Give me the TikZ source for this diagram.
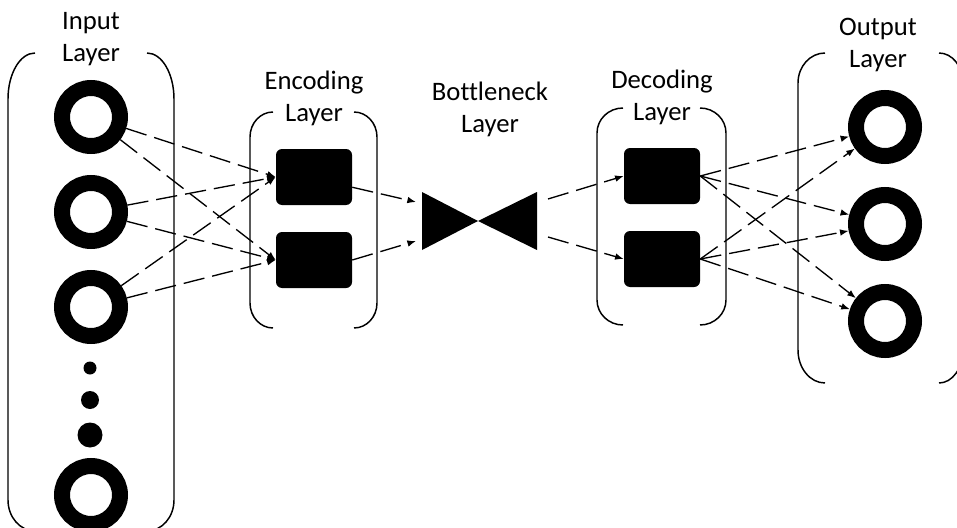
\documentclass[tikz,border=0pt]{standalone}
\usepackage{fontspec}
\setmainfont{Carlito}[Ligatures=NoCommon]
\usetikzlibrary{arrows.meta}

\begin{document}
\begin{tikzpicture}[x=0.75pt, y=-0.75pt,
  ring/.style={circle, draw, line width=12pt, minimum size=43.5pt, inner sep=0pt, outer sep=6pt},
  blob/.style={circle, fill, inner sep=0pt},
  cell/.style={fill, rounded corners=4.5pt, minimum width=57pt, minimum height=42pt, inner sep=0pt},
  lbl/.style={font=\fontsize{20}{24}\selectfont, align=center, inner sep=0pt},
  bracket/.style={line width=1.1pt},
  conn/.style={-{Latex[length=6.5pt, width=5pt]}, line width=1pt, dash pattern=on 16pt off 6pt}
]
\useasboundingbox (0,0) rectangle (957,528);
\clip (0,0) rectangle (957,528);

%% Input layer (left column, runs off the bottom)
\node[ring] (in1) at (91,117) {};
\node[ring] (in2) at (91,212) {};
\node[ring] (in3) at (91,307) {};
\node[blob, minimum size=9.75pt] (dot1) at (90,368) {};
\node[blob, minimum size=13.5pt] (dot2) at (90,400) {};
\node[blob, minimum size=18.75pt] (dot3) at (90,435) {};
\node[ring] (in4) at (91,495) {};

\draw[bracket] (35,53) arc[start angle=90, end angle=180, x radius=20.25pt, y radius=34.5pt]
  -- (8,500) arc[start angle=180, end angle=270, x radius=20.25pt, y radius=23.25pt];
\draw[bracket] (147,53) arc[start angle=90, end angle=0, x radius=20.25pt, y radius=34.5pt]
  -- (174,500) arc[start angle=0, end angle=-90, x radius=20.25pt, y radius=23.25pt];
\node[lbl] (lbl-in) at (91,39) {Input\\Layer};

%% Encoding layer
\node[cell] (enc1) at (314,177) {};
\node[cell] (enc2) at (314,260) {};

\draw[bracket] (273,112) arc[start angle=90, end angle=180, x radius=17.25pt, y radius=18.75pt]
  -- (250,303) arc[start angle=180, end angle=270, x radius=17.25pt, y radius=18.75pt];
\draw[bracket] (354,112) arc[start angle=90, end angle=0, x radius=17.25pt, y radius=18.75pt]
  -- (377,303) arc[start angle=0, end angle=-90, x radius=17.25pt, y radius=18.75pt];
\node[lbl] (lbl-enc) at (314,98) {Encoding\\Layer};

%% Bottleneck (bow tie)
\fill (422,192) -- (478,221) -- (422,250) -- cycle;
\fill (537,192) -- (478,221) -- (537,250) -- cycle;
\coordinate (bn-in1) at (416,202);
\coordinate (bn-in2) at (416,241);
\coordinate (bn-out1) at (548,199);
\coordinate (bn-out2) at (548,237);
\node[lbl] (lbl-bn) at (490,109) {Bottleneck\\Layer};

%% Decoding layer
\node[cell] (dec1) at (662,176) {};
\node[cell] (dec2) at (662,259) {};

\draw[bracket] (623,108) arc[start angle=90, end angle=180, x radius=19.5pt, y radius=18.75pt]
  -- (597,300) arc[start angle=180, end angle=270, x radius=19.5pt, y radius=18.75pt];
\draw[bracket] (700,108) arc[start angle=90, end angle=0, x radius=19.5pt, y radius=18.75pt]
  -- (726,300) arc[start angle=0, end angle=-90, x radius=19.5pt, y radius=18.75pt];
\node[lbl] (lbl-dec) at (662,97) {Decoding\\Layer};

%% Output layer
\node[ring] (out1) at (885,127) {};
\node[ring] (out2) at (885,224) {};
\node[ring] (out3) at (885,321) {};

\draw[bracket] (825,53) arc[start angle=90, end angle=180, x radius=20.25pt, y radius=22.5pt]
  -- (798,350) arc[start angle=180, end angle=270, x radius=20.25pt, y radius=24.75pt];
\draw[bracket] (939,53) arc[start angle=90, end angle=0, x radius=18pt, y radius=22.5pt]
  -- (963,350) arc[start angle=0, end angle=-90, x radius=18pt, y radius=24.75pt];
\node[lbl] (lbl-out) at (878,45) {Output\\Layer};

%% Connections: input -> encoding
\draw[conn] (in1) -- (enc1.west);
\draw[conn] (in1) -- (enc2.west);
\draw[conn] (in2) -- (enc1.west);
\draw[conn] (in2) -- (enc2.west);
\draw[conn] (in3) -- (enc1.west);
\draw[conn] (in3) -- (enc2.west);

%% encoding -> bottleneck -> decoding
\draw[conn] (enc1.-15) -- (bn-in1);
\draw[conn] (enc2.east) -- (bn-in2);
\draw[conn] (bn-out1) -- (dec1.west);
\draw[conn] (bn-out2) -- (dec2.west);

%% decoding -> output
\draw[conn] (dec1.east) -- (out1);
\draw[conn] (dec1.east) -- (out2);
\draw[conn] (dec1.east) -- (out3);
\draw[conn] (dec2.east) -- (out1);
\draw[conn] (dec2.east) -- (out2);
\draw[conn] (dec2.east) -- (out3);
\end{tikzpicture}
\end{document}
